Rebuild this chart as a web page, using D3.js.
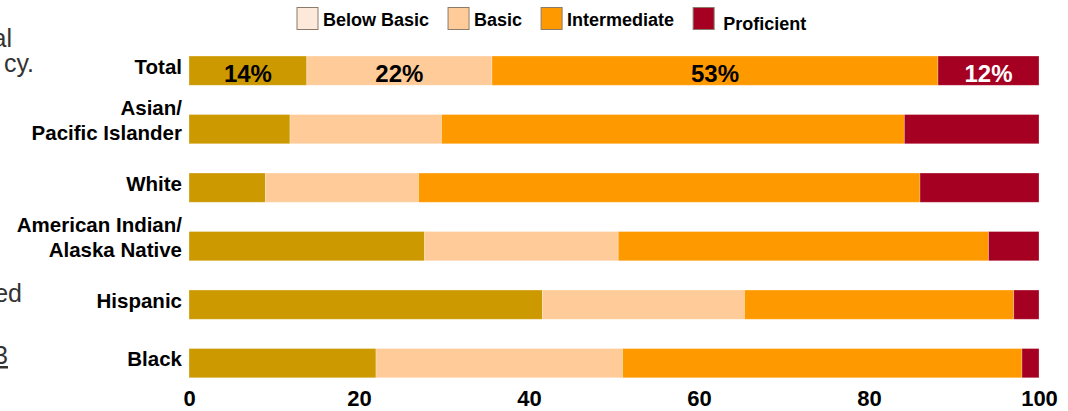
<!DOCTYPE html>
<html>
<head>
<meta charset="utf-8">
<script src="https://cdn.jsdelivr.net/npm/d3@7"></script>
<style>
  html, body { margin: 0; padding: 0; background: #fff; }
  svg { display: block; font-family: "Liberation Sans", Arial, sans-serif; }
</style>
</head>
<body>
<svg id="chart" width="1068" height="411"></svg>
<script>
// ---- data ----
const categories = ["Total", "Asian/\nPacific Islander", "White", "American Indian/\nAlaska Native", "Hispanic", "Black"];
const levels = ["Below Basic", "Basic", "Intermediate", "Proficient"];
const belowBasic   = [14, 12,  9, 28, 42, 22];
const basic        = [22, 18, 18, 23, 24, 29];
const intermediate = [53, 55, 59, 44, 32, 47];
const proficient   = [12, 16, 14,  6,  3,  2];
const totalLabels  = ["14%", "22%", "53%", "12%"];
const xTicks       = [0, 20, 40, 60, 80, 100];
const sideFragments = ["al", "cy.", "ed", "3"];

// ---- styles ----
const barColors    = ["#CC9900", "#FFCC99", "#FF9900", "#A50021"];
const legendColors = ["#FDE9D9", "#FFCC99", "#FF9900", "#A50021"];

const rows = categories.map((c, i) => ({
  cat: c,
  "Below Basic": belowBasic[i],
  "Basic": basic[i],
  "Intermediate": intermediate[i],
  "Proficient": proficient[i]
}));

const svg = d3.select("#chart");

const x = d3.scaleLinear().domain([0, 100]).range([189, 1039]);
const y = d3.scaleBand().domain(categories).range([41.4, 392.4]).paddingInner(0.5).paddingOuter(0.25);

const series = d3.stack().keys(levels).offset(d3.stackOffsetExpand)(rows);

// bars
const g = svg.append("g");
series.forEach((s, si) => {
  g.selectAll(null).data(s).enter().append("rect")
    .attr("x", d => x(d[0] * 100))
    .attr("width", d => x(d[1] * 100) - x(d[0] * 100))
    .attr("y", d => y(d.data.cat))
    .attr("height", y.bandwidth())
    .attr("fill", barColors[si])
    .attr("stroke", "#ffffff")
    .attr("stroke-opacity", 0.35)
    .attr("stroke-width", 0.8);
});

// Total percentage labels
const totalSegs = series.map(s => s[0]);
svg.append("g").selectAll("text").data(totalSegs).enter().append("text")
  .attr("x", d => x((d[0] + d[1]) / 2 * 100))
  .attr("y", y("Total") + y.bandwidth() / 2 + 11)
  .attr("text-anchor", "middle")
  .attr("font-size", 24)
  .attr("font-weight", "bold")
  .attr("fill", (d, i) => i === 3 ? "#ffffff" : "#000000")
  .text((d, i) => totalLabels[i]);

// category labels
const catG = svg.append("g");
categories.forEach(c => {
  const lines = c.split("\n");
  const cy = y(c) + y.bandwidth() / 2;
  const t = catG.append("text")
    .attr("text-anchor", "end")
    .attr("font-size", 20.5)
    .attr("font-weight", "bold")
    .attr("fill", "#000");
  if (lines.length === 1) {
    t.append("tspan").attr("x", 182).attr("y", cy + 3).text(lines[0]);
  } else {
    t.append("tspan").attr("x", 182).attr("y", cy - 14).text(lines[0]);
    t.append("tspan").attr("x", 182).attr("y", cy + 11).text(lines[1]);
  }
});

// x axis
const axis = d3.axisBottom(x).tickValues(xTicks).tickSize(0).tickPadding(0).tickFormat(d3.format("d"));
const ax = svg.append("g").attr("transform", "translate(0,386)").call(axis);
ax.select(".domain").remove();
ax.selectAll("text")
  .attr("font-family", "'Liberation Sans', Arial, sans-serif")
  .attr("font-size", 22)
  .attr("font-weight", "bold")
  .attr("fill", "#000")
  .attr("dy", "0.92em");

// legend
const lg = svg.append("g");
let lx = 297;
levels.forEach((lv, i) => {
  const item = lg.append("g");
  item.append("rect")
    .attr("x", lx).attr("y", 7.5)
    .attr("width", 21).attr("height", 22)
    .attr("fill", legendColors[i])
    .attr("stroke", "#8c7b6b").attr("stroke-width", 1);
  const tx = lx + (i === 3 ? 30 : 26);
  const txt = item.append("text")
    .attr("x", tx).attr("y", i === 3 ? 30 : 26)
    .attr("font-size", 18).attr("font-weight", "bold").attr("fill", "#000")
    .text(lv);
  lx = tx + txt.node().getComputedTextLength() + 19;
});

// cut-off text from neighbouring panel (left edge), as in the reference
const frag = svg.append("g").attr("font-size", 25).attr("fill", "#333").attr("text-anchor", "end");
frag.append("text").attr("x", 12).attr("y", 47).text(sideFragments[0]);
frag.append("text").attr("x", 34).attr("y", 72).text(sideFragments[1]);
frag.append("text").attr("x", 22).attr("y", 302).text(sideFragments[2]);
frag.append("text").attr("x", 8).attr("y", 364).attr("text-decoration", "underline").text(sideFragments[3]);
</script>
</body>
</html>
